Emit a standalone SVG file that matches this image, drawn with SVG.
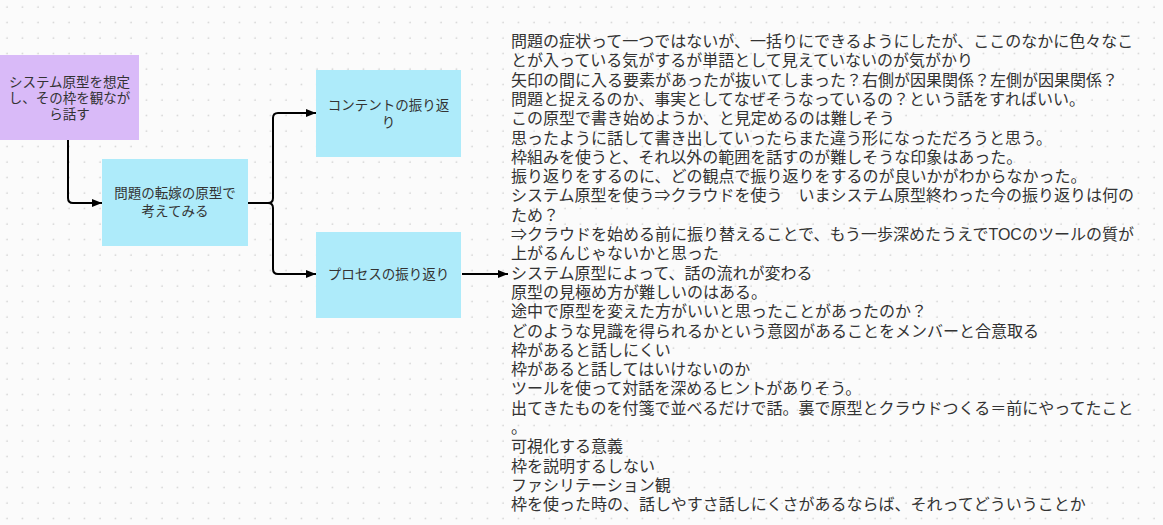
<svg xmlns="http://www.w3.org/2000/svg" width="1163" height="525" viewBox="0 0 1163 525">
  <defs>
    <pattern id="dots" x="0" y="0" width="15.5" height="15.5" patternUnits="userSpaceOnUse">
      <circle cx="7" cy="7" r="0.8" fill="#c4c4c4"/>
    </pattern>
    <marker id="arrow" viewBox="0 0 10 10" refX="10" refY="5" markerWidth="5" markerHeight="5" orient="auto" markerUnits="strokeWidth">
      <path d="M0,1 L10,5 L0,9 Z" fill="#000"/>
    </marker>
  </defs>
  <style>
    .node-text { font-family: "Liberation Sans", "Noto Sans CJK JP", sans-serif; font-size: 13.5px; fill: #333; text-anchor: middle; }
    .body-text { font-family: "Liberation Sans", "Noto Sans CJK JP", sans-serif; font-size: 16px; fill: #333; }
    .conn { fill: none; stroke: #000; stroke-width: 2; }
    .purple { fill: #d9baf8; }
    .cyan { fill: #aeebfa; }
  </style>
  <rect x="0" y="0" width="1163" height="525" fill="#fbfbfb"/>
  <rect x="0" y="0" width="1163" height="525" fill="url(#dots)"/>

  <g id="node-system">
    <rect class="purple" x="0" y="55" width="139" height="85"/>
    <text class="node-text" x="69.5" y="87">システム原型を想定</text>
    <text class="node-text" x="69.5" y="103">し、その枠を観なが</text>
    <text class="node-text" x="69.5" y="119">ら話す</text>
  </g>
  <g id="node-tenka">
    <rect class="cyan" x="102" y="159" width="146" height="87"/>
    <text class="node-text" x="175" y="198">問題の転嫁の原型で</text>
    <text class="node-text" x="175" y="216">考えてみる</text>
  </g>
  <g id="node-content">
    <rect class="cyan" x="316" y="70" width="145" height="87"/>
    <text class="node-text" x="388.5" y="110">コンテントの振り返</text>
    <text class="node-text" x="388.5" y="127">り</text>
  </g>
  <g id="node-process">
    <rect class="cyan" x="316" y="232" width="145" height="86"/>
    <text class="node-text" x="388.5" y="279">プロセスの振り返り</text>
  </g>

  <g id="connectors">
    <path class="conn" d="M68,140 L68,198 Q68,203 73,203 L102,203" marker-end="url(#arrow)"/>
    <path class="conn" d="M248,203 L268,203 Q273,203 273,198 L273,118 Q273,113 278,113 L316,113" marker-end="url(#arrow)"/>
    <path class="conn" d="M268,203 Q273,203 273,208 L273,269 Q273,274 278,274 L316,274" marker-end="url(#arrow)"/>
    <path class="conn" d="M462,274 L508,274" marker-end="url(#arrow)"/>
  </g>

  <g id="notes" class="body-text">
    <text x="511" y="47">問題の症状って一つではないが、一括りにできるようにしたが、ここのなかに色々なこ</text>
    <text x="511" y="66.3">とが入っている気がするが単語として見えていないのが気がかり</text>
    <text x="511" y="85.6">矢印の間に入る要素があったが抜いてしまった？右側が因果関係？左側が因果関係？</text>
    <text x="511" y="104.9">問題と捉えるのか、事実としてなぜそうなっているの？という話をすればいい。</text>
    <text x="511" y="124.2">この原型で書き始めようか、と見定めるのは難しそう</text>
    <text x="511" y="143.5">思ったように話して書き出していったらまた違う形になっただろうと思う。</text>
    <text x="511" y="162.8">枠組みを使うと、それ以外の範囲を話すのが難しそうな印象はあった。</text>
    <text x="511" y="182.1">振り返りをするのに、どの観点で振り返りをするのが良いかがわからなかった。</text>
    <text x="511" y="201.4">システム原型を使う⇒クラウドを使う　いまシステム原型終わった今の振り返りは何の</text>
    <text x="511" y="220.7">ため？</text>
    <text x="511" y="240">⇒クラウドを始める前に振り替えることで、もう一歩深めたうえでTOCのツールの質が</text>
    <text x="511" y="259.3">上がるんじゃないかと思った</text>
    <text x="511" y="278.6">システム原型によって、話の流れが変わる</text>
    <text x="511" y="297.9">原型の見極め方が難しいのはある。</text>
    <text x="511" y="317.2">途中で原型を変えた方がいいと思ったことがあったのか？</text>
    <text x="511" y="336.5">どのような見識を得られるかという意図があることをメンバーと合意取る</text>
    <text x="511" y="355.8">枠があると話しにくい</text>
    <text x="511" y="375.1">枠があると話してはいけないのか</text>
    <text x="511" y="394.4">ツールを使って対話を深めるヒントがありそう。</text>
    <text x="511" y="413.7">出てきたものを付箋で並べるだけで話。裏で原型とクラウドつくる＝前にやってたこと</text>
    <text x="511" y="433">。</text>
    <text x="511" y="452.3">可視化する意義</text>
    <text x="511" y="471.6">枠を説明するしない</text>
    <text x="511" y="490.9">ファシリテーション観</text>
    <text x="511" y="510.2">枠を使った時の、話しやすさ話しにくさがあるならば、それってどういうことか</text>
  </g>
</svg>
